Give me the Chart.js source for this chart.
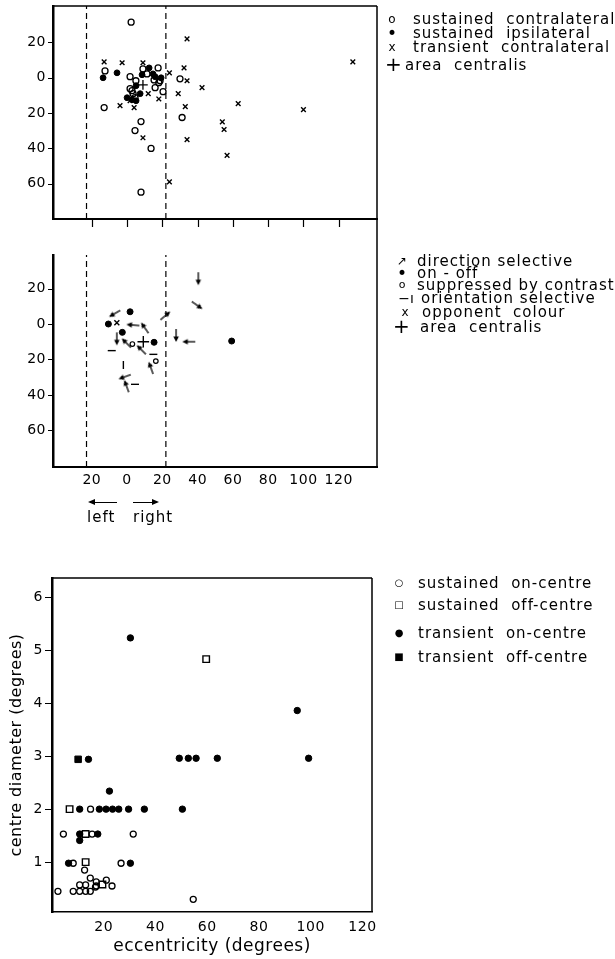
<!DOCTYPE html>
<html lang="en">
<head>
<meta charset="utf-8">
<title>Receptive field positions and centre diameters</title>
<script src="https://cdn.jsdelivr.net/npm/chart.js@4.4.1/dist/chart.umd.min.js"></script>
<style>
  html, body { margin:0; padding:0; background:#fff; }
  body { width:615px; height:959px; position:relative; overflow:hidden; font-family:"DejaVu Sans", sans-serif; color:#000; }
  canvas { position:absolute; left:0; }
  .lg { position:absolute; font-size:15px; letter-spacing:1px; white-space:pre; line-height:14px; }
  .sym { position:absolute; width:14px; line-height:14px; text-align:center; }
  .arrow { position:absolute; height:1px; background:#000; }
  .arrow.l::before { content:""; position:absolute; left:-2px; top:-3px; border-right:7px solid #000; border-top:3.5px solid transparent; border-bottom:3.5px solid transparent; }
  .arrow.r::after { content:""; position:absolute; right:-2px; top:-3px; border-left:7px solid #000; border-top:3.5px solid transparent; border-bottom:3.5px solid transparent; }
</style>
</head>
<body>
<canvas id="rfClass" width="615" height="240" style="top:0px"></canvas>
<canvas id="rfProps" width="615" height="270" style="top:219px"></canvas>
<canvas id="centreSize" width="615" height="399" style="top:560px"></canvas>

<!-- legend, panel 1 -->
<span class="sym" style="left:385px;top:12px;font-size:12px">o</span>
<div class="lg" style="left:413px;top:12px">sustained  contralateral</div>
<span class="sym" style="left:385px;top:26px;font-size:17px">•</span>
<div class="lg" style="left:413px;top:26px">sustained  ipsilateral</div>
<span class="sym" style="left:385px;top:40px;font-size:12px">x</span>
<div class="lg" style="left:413px;top:40px">transient  contralateral</div>
<span class="sym" style="left:385px;top:57px;font-size:20px">+</span>
<div class="lg" style="left:405px;top:58px">area  centralis</div>

<!-- legend, panel 2 -->
<span class="sym" style="left:395px;top:254px;font-size:12px">↗</span>
<div class="lg" style="left:417px;top:254px">direction selective</div>
<span class="sym" style="left:395px;top:266px;font-size:17px">•</span>
<div class="lg" style="left:417px;top:266px">on - off</div>
<span class="sym" style="left:395px;top:278px;font-size:11px">o</span>
<div class="lg" style="left:417px;top:278px">suppressed by contrast</div>
<span class="sym" style="left:396px;top:291px;font-size:14px;width:20px">−ı</span>
<div class="lg" style="left:421px;top:291px">orientation selective</div>
<span class="sym" style="left:398px;top:305px;font-size:12px">x</span>
<div class="lg" style="left:422px;top:305px">opponent  colour</div>
<span class="sym" style="left:393px;top:319px;font-size:20px">+</span>
<div class="lg" style="left:420px;top:320px">area  centralis</div>

<!-- left / right under panel 2 -->
<div class="arrow l" style="left:90px;top:502px;width:27px"></div>
<div class="arrow r" style="left:133px;top:502px;width:24px"></div>
<div class="lg" style="left:87px;top:510px">left</div>
<div class="lg" style="left:133px;top:510px">right</div>

<!-- legend, panel 3 -->
<span class="sym" style="left:392px;top:576px;font-size:10px">○</span>
<div class="lg" style="left:418px;top:576px">sustained  on-centre</div>
<span class="sym" style="left:392px;top:598px;font-size:10px">□</span>
<div class="lg" style="left:418px;top:598px">sustained  off-centre</div>
<span class="sym" style="left:392px;top:626px;font-size:10px">●</span>
<div class="lg" style="left:418px;top:626px">transient  on-centre</div>
<span class="sym" style="left:392px;top:650px;font-size:10px">■</span>
<div class="lg" style="left:418px;top:650px">transient  off-centre</div>

<script>
// ---------------- data: panel 1 (field positions, degrees) ----------------
const xTickValues = [-20, 0, 20, 40, 60, 80, 100, 120];
const yTickValues = [20, 0, -20, -40, -60];
const meridianMarks = [-23, 22];

const susContraX = [2.3, -12.5, 1.7, 5, 9, 11.3, 17.6, 15.3, 18, 15.9, 20.4, 1.7, 3.4, 4.5, 30, -13, 31.2, 7.9, 4.5, 13.6, 7.9, 18.7, 2.8];
const susContraY = [31.5, 3.9, 0.6, -1.7, 5, 2.2, 5.6, -1.2, -2.8, -5.6, -7.9, -6.2, -9, -11.3, -0.6, -16.9, -22.5, -24.8, -29.9, -40, -64.8, -1.7, -7.3];

const susIpsiX = [-13.6, -5.7, 12.5, 8.5, 14.7, 15.9, 19.3, 5.1, 7.4, 0, 2.8, 5.1];
const susIpsiY = [0, 2.8, 5.6, 1.7, 2.2, 0.6, 0, -4.5, -9, -11.3, -12.4, -13];

const transContraX = [-13, -2.8, 9, 34, 128, 24, 32.3, 34, 42.5, 12, 18, 29, -4, 4, 1.7, 33, 63, 100, 54, 55, 9, 34, 56.7, 24];
const transContraY = [9, 8.5, 8.5, 22, 9, 2.8, 5.6, -1.7, -5.6, -9, -12, -9, -15.8, -16.9, -13, -16.3, -14.6, -18, -25, -29.3, -34, -35, -44, -59];

const centralisAX = [9];
const centralisAY = [-4];

// ---------------- data: panel 2 (response properties) ----------------
const dirSelX = [-6.8, 3.6, 10.2, -5.8, -0.2, 8.3, 13.6, -1.1, -0.2, 21.5, 27.8, 35.3, 40.4, 39.5];
const dirSelY = [6.0, -0.6, -2.4, -8.1, -10.9, -14.7, -25, -29.7, -35.3, 4.5, -6.2, -10, 25.8, 10.7];
const dirSelAngle = [150, 185, 235, 90, 225, 225, 250, 160, 250, 320, 90, 180, 90, 35];

const onOffX = [-10.6, 1.7, -2.7, 15.3, 59.3];
const onOffY = [0, 6.9, -4.7, -10.3, -9.6];

const suppressedX = [3, 16.3];
const suppressedY = [-11.3, -20.9];

const orientX = [-8.7, 14.9, -2.1, 4.5];
const orientY = [-15, -17.1, -23.1, -34];
const orientAngle = [0, 0, 90, 0];

const opponentX = [-5.8];
const opponentY = [0.7];

const centralisBX = [9.2];
const centralisBY = [-10];

// ---------------- data: panel 3 (centre diameter vs eccentricity) ----------------
const eccTickValues = [20, 40, 60, 80, 100, 120];
const diamTickValues = [1, 2, 3, 4, 5, 6];

const susOnX = [4.4, 31.4, 15.5, 8.2, 26.7, 12.6, 14.8, 2.3, 8.2, 10.7, 13, 14.8, 10.7, 13, 17.1, 17.1, 21, 23.2, 54.6, 14.9, 16.8];
const susOnY = [1.53, 1.53, 1.53, 0.98, 0.98, 0.85, 0.70, 0.45, 0.45, 0.45, 0.45, 0.45, 0.57, 0.57, 0.63, 0.55, 0.66, 0.55, 0.30, 2.0, 0.53];

const susOffX = [59.6, 6.8, 13, 13, 19.5];
const susOffY = [4.83, 2.0, 1.53, 1.0, 0.58];

const transOnX = [30.3, 94.8, 99.2, 14.1, 49.2, 52.7, 55.7, 63.9, 22.2, 10.7, 18.3, 20.9, 23.4, 25.8, 29.6, 35.7, 50.4, 10.7, 17.7, 6.4, 30.3, 10.7];
const transOnY = [5.23, 3.86, 2.96, 2.94, 2.96, 2.96, 2.96, 2.96, 2.34, 2.0, 2.0, 2.0, 2.0, 2.0, 2.0, 2.0, 2.0, 1.53, 1.53, 0.98, 0.98, 1.41];

const transOffX = [10.1];
const transOffY = [2.94];

// ---------------- helpers ----------------
const BLK = '#000';
const NONE = 'rgba(0,0,0,0)';
const tickFont = { family: 'DejaVu Sans', size: 14 };
const pts = (xs, ys) => xs.map((x, i) => ({ x: x, y: ys[i] }));
function fixSize(n) {
  return s => {
    if (s.isHorizontal()) { s.height = n; }
    else { s.width = n; s.paddingTop = 0; s.paddingBottom = 0; }
  };
}
function setTicks(values) { return s => { s.ticks = values.map(v => ({ value: v })); }; }
function meridian(x, lo, hi) {
  return { data: [{ x: x, y: lo }, { x: x, y: hi }], showLine: true, borderColor: BLK,
    borderWidth: 1.2, borderDash: [6, 4], pointRadius: 0 };
}
function makeArrow() {
  const c = document.createElement('canvas'); c.width = 16; c.height = 16;
  const g = c.getContext('2d');
  g.strokeStyle = BLK; g.fillStyle = BLK; g.lineWidth = 1.3;
  g.beginPath(); g.moveTo(2, 8); g.lineTo(12, 8); g.stroke();
  g.beginPath(); g.moveTo(15, 8); g.lineTo(9.5, 5.3); g.lineTo(9.5, 10.7); g.closePath(); g.fill();
  return c;
}
// frame and tick-mark plugin: draws the box sides and the short tick marks
// at the library's own pixel positions for the tick values
function framePlugin(cfg) {
  return { id: 'frame', afterDraw(chart) {
    const ctx = chart.ctx, a = chart.chartArea;
    ctx.save();
    ctx.setLineDash([]);
    ctx.strokeStyle = BLK;
    ctx.lineWidth = 1.5;
    ctx.beginPath();
    if (cfg.top) { ctx.moveTo(a.left, a.top); ctx.lineTo(a.right, a.top); }
    if (cfg.right) { ctx.moveTo(a.right, cfg.extendUp ? 0 : a.top); ctx.lineTo(a.right, a.bottom); }
    ctx.stroke();
    ctx.lineWidth = 1.2;
    ctx.beginPath();
    if (cfg.xTicks) {
      const sx = chart.scales.x;
      cfg.xTicks.forEach(v => { const p = Math.round(sx.getPixelForValue(v)) + 0.5; ctx.moveTo(p, a.bottom); ctx.lineTo(p, a.bottom + cfg.xTickLen); });
    }
    if (cfg.yTicks) {
      const sy = chart.scales.y;
      cfg.yTicks.forEach(v => { const p = Math.round(sy.getPixelForValue(v)) + 0.5; ctx.moveTo(a.left, p); ctx.lineTo(a.left - cfg.yTickLen, p); });
    }
    ctx.stroke();
    ctx.restore();
  } };
}
const spacing = { id: 'spacing', beforeUpdate(chart) { chart.ctx.letterSpacing = '0.5px'; } };
function commonOpts(pad, scales) {
  return { responsive: false, animation: false, events: [],
    layout: { padding: pad },
    plugins: { legend: { display: false }, tooltip: { enabled: false } },
    scales: scales };
}

// ---------------- panel 1 ----------------
const A_MIN = -80, A_MAX = 40.6, X_MIN = -42, X_MAX = 141.7;
new Chart(document.getElementById('rfClass'), {
  type: 'scatter',
  data: { datasets: [
    { label: 'area centralis', data: pts(centralisAX, centralisAY), pointStyle: 'cross', pointRadius: 4.8, borderColor: BLK, borderWidth: 1.3 },
    { label: 'sustained contralateral', data: pts(susContraX, susContraY), pointStyle: 'circle', pointRadius: 3, borderColor: BLK, backgroundColor: NONE, borderWidth: 1.3 },
    { label: 'sustained ipsilateral', data: pts(susIpsiX, susIpsiY), pointStyle: 'circle', pointRadius: 2.9, borderColor: BLK, backgroundColor: BLK, borderWidth: 1 },
    { label: 'transient contralateral', data: pts(transContraX, transContraY), pointStyle: 'crossRot', pointRadius: 3.3, borderColor: BLK, borderWidth: 1.4 },
    Object.assign({ label: 'meridian L' }, meridian(meridianMarks[0], A_MIN, A_MAX)),
    Object.assign({ label: 'meridian R' }, meridian(meridianMarks[1], A_MIN, A_MAX))
  ] },
  options: commonOpts({ top: 5, right: 238, bottom: 0, left: 0 }, {
    x: { type: 'linear', min: X_MIN, max: X_MAX, afterBuildTicks: setTicks(xTickValues), afterFit: fixSize(21),
      ticks: { display: false },
      grid: { display: false },
      border: { display: true, color: BLK, width: 2 } },
    y: { type: 'linear', min: A_MIN, max: A_MAX, afterBuildTicks: setTicks(yTickValues), afterFit: fixSize(53),
      ticks: { callback: v => Math.abs(v), color: BLK, font: tickFont, padding: 7, autoSkip: false },
      grid: { display: false, drawTicks: false },
      border: { display: true, color: BLK, width: 2.5 } }
  }),
  plugins: [spacing, framePlugin({ top: true, right: true, xTicks: xTickValues, xTickLen: 8, yTicks: yTickValues, yTickLen: 5 })]
});

// ---------------- panel 2 ----------------
const B_MIN = -80.6, B_MAX = 38.9;
new Chart(document.getElementById('rfProps'), {
  type: 'scatter',
  data: { datasets: [
    { label: 'area centralis', data: pts(centralisBX, centralisBY), pointStyle: 'cross', pointRadius: 5.8, borderColor: BLK, borderWidth: 1.4 },
    { label: 'direction selective', data: pts(dirSelX, dirSelY), pointStyle: makeArrow(), pointRotation: dirSelAngle, pointRadius: 6 },
    { label: 'on-off', data: pts(onOffX, onOffY), pointStyle: 'circle', pointRadius: 3, borderColor: BLK, backgroundColor: BLK, borderWidth: 1 },
    { label: 'suppressed by contrast', data: pts(suppressedX, suppressedY), pointStyle: 'circle', pointRadius: 2.3, borderColor: BLK, backgroundColor: NONE, borderWidth: 1.2 },
    { label: 'orientation selective', data: pts(orientX, orientY), pointStyle: 'line', pointRotation: orientAngle, pointRadius: 4, borderColor: BLK, borderWidth: 1.4 },
    { label: 'opponent colour', data: pts(opponentX, opponentY), pointStyle: 'crossRot', pointRadius: 3.5, borderColor: BLK, borderWidth: 1.4 },
    Object.assign({ label: 'meridian L' }, meridian(meridianMarks[0], B_MIN, B_MAX)),
    Object.assign({ label: 'meridian R' }, meridian(meridianMarks[1], B_MIN, B_MAX))
  ] },
  options: commonOpts({ top: 36, right: 238, bottom: 0, left: 0 }, {
    x: { type: 'linear', min: X_MIN, max: X_MAX, afterBuildTicks: setTicks(xTickValues), afterFit: fixSize(22),
      ticks: { callback: v => Math.abs(v), color: BLK, font: tickFont, padding: 5, autoSkip: false, maxRotation: 0 },
      grid: { display: false, drawTicks: false },
      border: { display: true, color: BLK, width: 2 } },
    y: { type: 'linear', min: B_MIN, max: B_MAX, afterBuildTicks: setTicks(yTickValues), afterFit: fixSize(53),
      ticks: { callback: v => Math.abs(v), color: BLK, font: tickFont, padding: 7, autoSkip: false },
      grid: { display: false, drawTicks: false },
      border: { display: true, color: BLK, width: 2.5 } }
  }),
  plugins: [spacing, framePlugin({ right: true, extendUp: true, yTicks: yTickValues, yTickLen: 5 })]
});

// ---------------- panel 3 ----------------
new Chart(document.getElementById('centreSize'), {
  type: 'scatter',
  data: { datasets: [
    { label: 'sustained on-centre', data: pts(susOnX, susOnY), pointStyle: 'circle', pointRadius: 3, borderColor: BLK, backgroundColor: NONE, borderWidth: 1.3 },
    { label: 'sustained off-centre', data: pts(susOffX, susOffY), pointStyle: 'rect', pointRadius: 4.6, borderColor: BLK, backgroundColor: NONE, borderWidth: 1.4 },
    { label: 'transient on-centre', data: pts(transOnX, transOnY), pointStyle: 'circle', pointRadius: 3.2, borderColor: BLK, backgroundColor: BLK, borderWidth: 1 },
    { label: 'transient off-centre', data: pts(transOffX, transOffY), pointStyle: 'rect', pointRadius: 4.6, borderColor: BLK, backgroundColor: BLK, borderWidth: 1 }
  ] },
  options: commonOpts({ top: 18, right: 243, bottom: 0, left: 0 }, {
    x: { type: 'linear', min: 0, max: 123.7, afterBuildTicks: setTicks(eccTickValues), afterFit: fixSize(47),
      ticks: { color: BLK, font: tickFont, padding: 7, autoSkip: false, maxRotation: 0 },
      grid: { display: false, drawTicks: false },
      border: { display: true, color: BLK, width: 1.5 },
      title: { display: true, text: 'eccentricity (degrees)', color: BLK, font: { family: 'DejaVu Sans', size: 17 }, padding: { top: 0, bottom: 2 } } },
    y: { type: 'linear', min: 0.06, max: 6.36, afterBuildTicks: setTicks(diamTickValues), afterFit: fixSize(52),
      ticks: { color: BLK, font: tickFont, padding: 9, autoSkip: false },
      grid: { display: false, drawTicks: false },
      border: { display: true, color: BLK, width: 2.5 },
      title: { display: true, text: 'centre diameter (degrees)', color: BLK, font: { family: 'DejaVu Sans', size: 16 }, padding: { top: 7, bottom: 0 } } }
  }),
  plugins: [spacing, framePlugin({ top: true, right: true, yTicks: diamTickValues, yTickLen: 7 })]
});
</script>
</body>
</html>
